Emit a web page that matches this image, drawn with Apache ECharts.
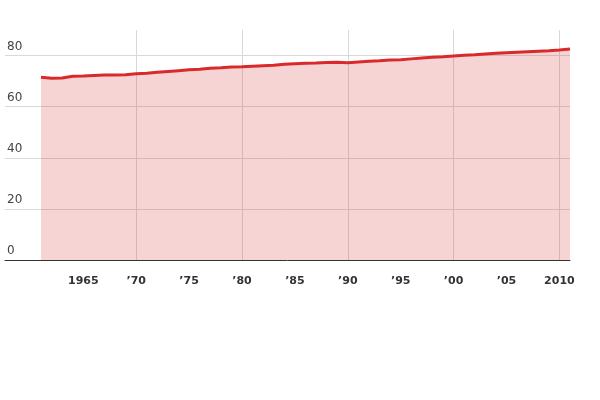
<!DOCTYPE html>
<html>
<head>
<meta charset="utf-8">
<script src="https://cdn.jsdelivr.net/npm/echarts@6/dist/echarts.min.js"></script>
<style>
  html, body { margin: 0; padding: 0; background: #fff; }
  #chart { width: 600px; height: 400px; }
</style>
</head>
<body>
<div id="chart"></div>
<script>
// years 1961 - 2011
var years = [1961, 1962, 1963, 1964, 1965, 1966, 1967, 1968, 1969, 1970,
    1971, 1972, 1973, 1974, 1975, 1976, 1977, 1978, 1979, 1980,
    1981, 1982, 1983, 1984, 1985, 1986, 1987, 1988, 1989, 1990,
    1991, 1992, 1993, 1994, 1995, 1996, 1997, 1998, 1999, 2000,
    2001, 2002, 2003, 2004, 2005, 2006, 2007, 2008, 2009, 2010, 2011];
var values = [71.5, 71.1, 71.2, 71.9, 72.0, 72.2, 72.4, 72.4, 72.5, 72.9,
    73.1, 73.5, 73.8, 74.1, 74.4, 74.6, 75.0, 75.2, 75.5, 75.6,
    75.8, 76.0, 76.2, 76.6, 76.8, 77.0, 77.1, 77.3, 77.4, 77.2,
    77.5, 77.8, 78.0, 78.3, 78.4, 78.7, 79.0, 79.3, 79.5, 79.8,
    80.1, 80.3, 80.6, 80.9, 81.1, 81.3, 81.5, 81.7, 81.9, 82.2, 82.6];
var xLabelYears = [1965, 1970, 1975, 1980, 1985, 1990, 1995, 2000, 2005, 2010];
var xGridYears = [1970, 1980, 1990, 2000, 2010];

var seriesData = years.map(function(y, i) {
    return [y, values[i]];
});

var myChart = echarts.init(document.getElementById('chart'));

var option = {
    animation: false,
    grid: { left: 5, right: 30, top: 30, bottom: 140, containLabel: false },
    xAxis: {
        type: 'value',
        min: 1957.6,
        max: 2011,
        axisLine: { show: true, lineStyle: { color: '#333', width: 1 } },
        axisTick: { show: false, customValues: xGridYears },
        splitLine: { show: true, lineStyle: { color: '#d9d9d9', width: 1 } },
        axisLabel: {
            customValues: xLabelYears,
            margin: 16,
            color: '#333',
            fontFamily: 'DejaVu Sans',
            fontWeight: 'bold',
            fontSize: 11,
            formatter: function(v) {
                if (v === 1965 || v === 2010) return String(v);
                return '\u2019' + String(v).slice(2);
            }
        }
    },
    yAxis: {
        type: 'value',
        min: 0,
        max: 90,
        interval: 20,
        axisLine: { show: false },
        axisTick: { show: false },
        splitLine: { show: true, showMaxLine: false, lineStyle: { color: '#d9d9d9', width: 1 } },
        axisLabel: {
            inside: true,
            margin: 2,
            showMaxLabel: false,
            verticalAlign: 'bottom',
            padding: [0, 0, 3, 0],
            color: '#444',
            fontFamily: 'DejaVu Sans',
            fontSize: 12
        }
    },
    series: [{
        type: 'line',
        data: seriesData,
        showSymbol: false,
        lineStyle: { color: '#d9292b', width: 3 },
        itemStyle: { color: '#d9292b' },
        areaStyle: { color: '#d62728', opacity: 0.2 }
    }]
};

myChart.setOption(option);
</script>
</body>
</html>
